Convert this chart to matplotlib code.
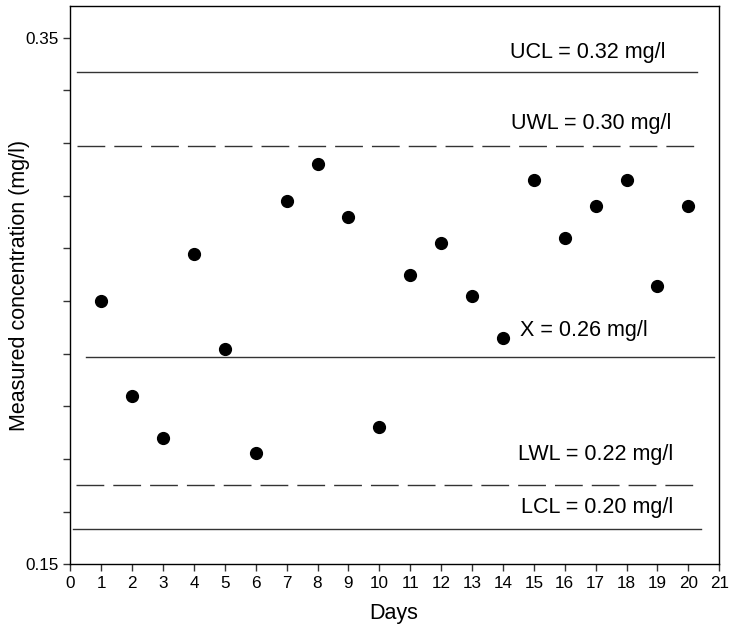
import matplotlib
matplotlib.use("Agg")
import matplotlib.pyplot as plt
import numpy as np

plt.rcParams['font.family'] = ['Liberation Sans', 'DejaVu Sans']

days = list(range(1, 21))
conc = [0.2500, 0.2140, 0.1980, 0.2680, 0.2319, 0.1922, 0.2880, 0.3020, 0.2820, 0.2021,
        0.2600, 0.2720, 0.2520, 0.2361, 0.2961, 0.2738, 0.2861, 0.2960, 0.2558, 0.2861]

# control limit lines: level, x start, x end, style
limit_names = ["UCL", "UWL", "X", "LWL", "LCL"]
limit_levels = [0.337, 0.309, 0.2287, 0.1802, 0.1633]
limit_xstart = [0.22, 0.22, 0.5, 0.18, 0.10]
limit_xend = [20.27, 20.25, 20.83, 20.38, 20.40]
limit_dashed = [False, True, False, True, False]

label_texts = ["UCL = 0.32 mg/l", "UWL = 0.30 mg/l", "X = 0.26 mg/l",
               "LWL = 0.22 mg/l", "LCL = 0.20 mg/l"]
label_x = [14.23, 14.26, 14.55, 14.49, 14.58]
label_y = [0.3446, 0.3176, 0.2390, 0.1917, 0.1716]

fig = plt.figure(figsize=(7.29, 6.28), dpi=100)
ax = fig.add_axes([0.0964, 0.1014, 0.8903, 0.8895])

for lvl, x0, x1, dsh in zip(limit_levels, limit_xstart, limit_xend, limit_dashed):
    if dsh:
        ax.plot([x0, x1], [lvl, lvl], color='#333333', lw=1.0, dashes=(20, 6.5))
    else:
        ax.plot([x0, x1], [lvl, lvl], color='#333333', lw=1.0)

ax.plot(days, conc, 'o', color='black', markersize=8.5)

for t, x, y in zip(label_texts, label_x, label_y):
    ax.text(x, y, t, ha='left', va='center', fontsize=15.5)

ax.set_xlim(0, 21)
ax.set_ylim(0.15, 0.3622)
ax.set_xticks(range(0, 22))
ax.set_xticklabels([str(i) for i in range(0, 22)], fontsize=12.3)
yt = np.round(np.arange(0.15, 0.3601, 0.02), 2)
ax.set_yticks(yt)
ax.set_yticklabels(["0.15" if abs(v - 0.15) < 1e-6 else ("0.35" if abs(v - 0.35) < 1e-6 else "") for v in yt],
                   fontsize=12.3)
ax.tick_params(direction='out', length=5, width=1, color='#333333')
for s in ax.spines.values():
    s.set_linewidth(1.0)

fig.text(394 / 729, 1 - 613 / 628, "Days", ha='center', va='center', fontsize=15.5)
fig.text(20 / 729, 1 - 285 / 628, "Measured concentration (mg/l)", ha='center', va='center',
         rotation=90, fontsize=15.5)

fig.savefig("out.png", dpi=100)
